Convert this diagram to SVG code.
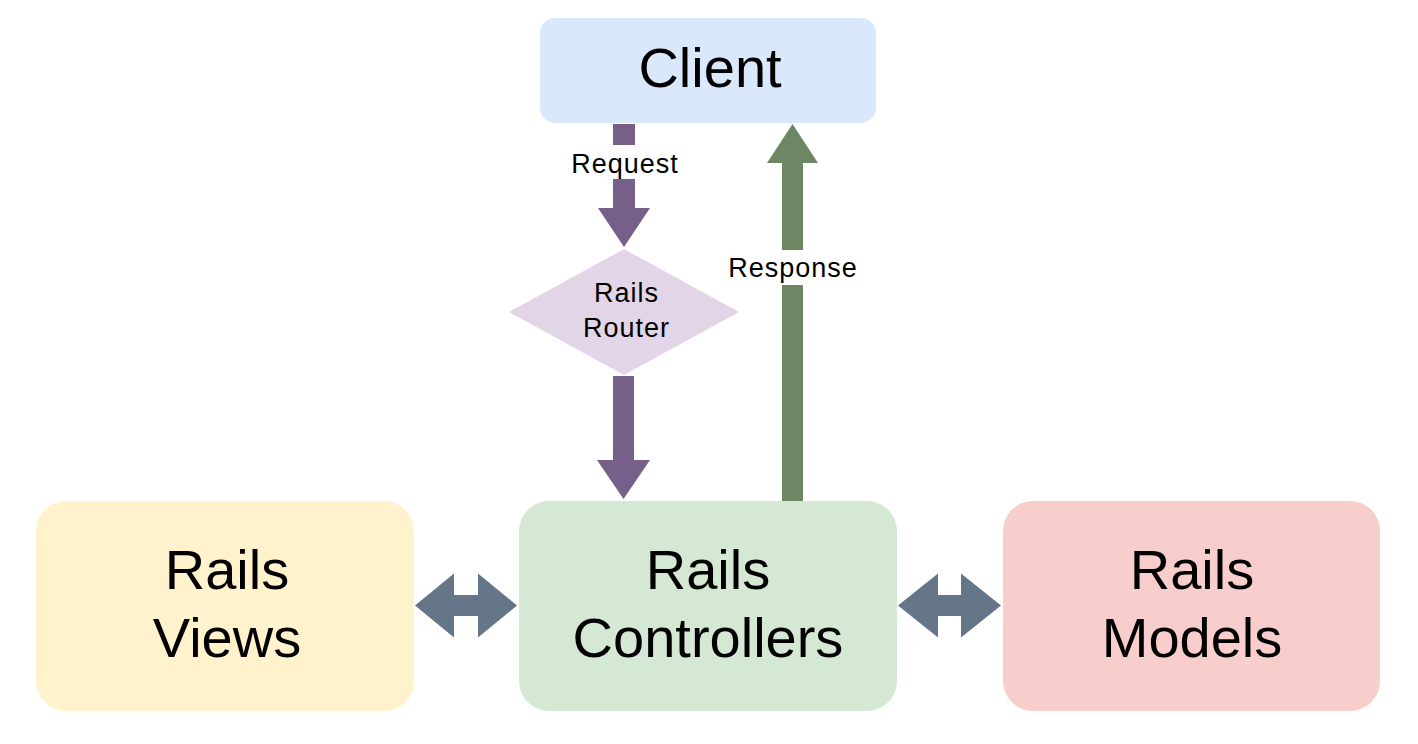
<svg xmlns="http://www.w3.org/2000/svg" width="1418" height="744" viewBox="0 0 1418 744">
<style>
.big{font-family:"Liberation Sans",Arial,sans-serif;font-size:56px;fill:#000;text-anchor:middle}
.small{font-family:"Liberation Sans",Arial,sans-serif;font-size:27px;letter-spacing:1px;fill:#000;text-anchor:middle}
.purple{fill:#76608a}
.green{fill:#6d8764}
.slate{fill:#647687}
</style>
<rect width="1418" height="744" fill="#ffffff"/>
<g id="connectors">
<polygon id="req1" class="purple" points="613,124 635,124 635,208 650,208 624,247 598,208 613,208"/>
<polygon id="req2" class="purple" points="613,376 634,376 634,460 650,460 623.5,499 597,460 613,460"/>
<polygon id="resp" class="green" points="782,502 803,502 803,163 818,163 792.5,124 767,163 782,163"/>
<polygon id="views-ctrl" class="slate" points="415,605.5 454,573.5 454,595 478,595 478,573.5 517,605.5 478,637.5 478,616 454,616 454,637.5"/>
<polygon id="ctrl-models" class="slate" points="898,605.5 938,573.5 938,595 961,595 961,573.5 1001,605.5 961,637.5 961,616 938,616 938,637.5"/>
<rect x="605" y="145" width="38" height="34" fill="#ffffff"/>
<text class="small" x="625" y="173">Request</text>
<rect x="775" y="250" width="36" height="35" fill="#ffffff"/>
<text class="small" x="793" y="277">Response</text>
</g>
<g id="client">
<rect x="540" y="18" width="336" height="105" rx="15" ry="15" fill="#dae8fc"/>
<text class="big" x="710" y="87">Client</text>
</g>
<g id="router">
<polygon points="624,249 739,312 624,375 509,312" fill="#e1d5e7"/>
<text class="small" x="626.5" y="302">Rails</text>
<text class="small" x="626.5" y="337">Router</text>
</g>
<g id="views">
<rect x="36" y="501" width="378" height="210" rx="30" ry="30" fill="#fff2cc"/>
<text class="big" x="227" y="589">Rails</text>
<text class="big" x="227" y="657">Views</text>
</g>
<g id="controllers">
<rect x="519" y="501" width="378" height="210" rx="30" ry="30" fill="#d5e8d4"/>
<text class="big" x="708" y="589">Rails</text>
<text class="big" x="708" y="657">Controllers</text>
</g>
<g id="models">
<rect x="1003" y="501" width="377" height="210" rx="30" ry="30" fill="#f8cecc"/>
<text class="big" x="1192" y="589">Rails</text>
<text class="big" x="1192" y="657">Models</text>
</g>
</svg>
